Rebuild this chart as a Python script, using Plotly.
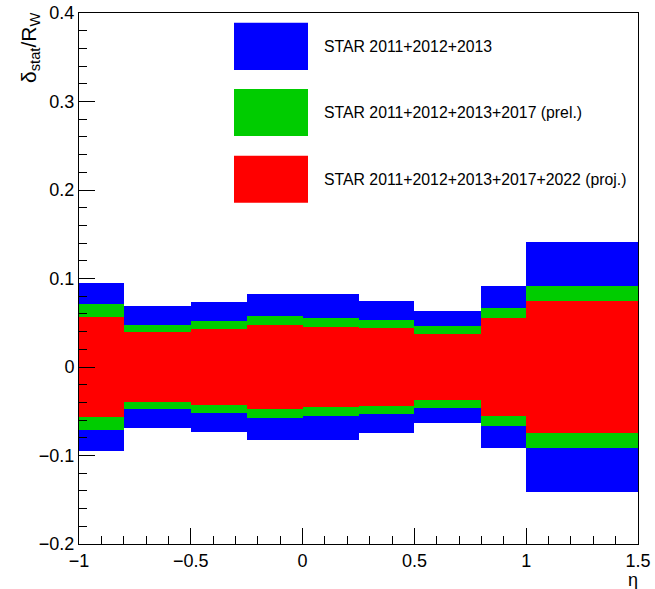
import plotly.graph_objects as go

# Bin edges in eta
eta_edges = [-1.0, -0.8, -0.5, -0.25, 0.0, 0.25, 0.5, 0.8, 1.0, 1.5]
# Half-widths of relative statistical uncertainty bands (delta_stat / R_W)
err_2011_2013 = [0.095, 0.069, 0.074, 0.083, 0.082, 0.075, 0.063, 0.092, 0.141]
err_2011_2017 = [0.071, 0.047, 0.052, 0.058, 0.055, 0.053, 0.046, 0.067, 0.092]
err_2011_2022 = [0.057, 0.039, 0.043, 0.048, 0.045, 0.044, 0.037, 0.055, 0.075]

series_names = [
    "STAR 2011+2012+2013",
    "STAR 2011+2012+2013+2017 (prel.)",
    "STAR 2011+2012+2013+2017+2022 (proj.)",
]
series_colors = ["#0000FF", "#00CC00", "#FF0000"]
series_errs = [err_2011_2013, err_2011_2017, err_2011_2022]

centers = [(a + b) / 2 for a, b in zip(eta_edges[:-1], eta_edges[1:])]
widths = [b - a for a, b in zip(eta_edges[:-1], eta_edges[1:])]

FONT = "Liberation Sans, Arial, Helvetica, sans-serif"

fig = go.Figure()
for name, color, errs in zip(series_names, series_colors, series_errs):
    fig.add_trace(go.Bar(
        x=centers,
        width=widths,
        y=[2 * e for e in errs],
        base=[-e for e in errs],
        name=name,
        marker=dict(color=color, line=dict(width=0)),
        showlegend=False,
        hoverinfo="skip",
    ))

W, H = 655, 589
L, R, T, B = 79, 17, 13, 45
pw, ph = W - L - R, H - T - B

def px_to_paper(px, py):
    return (px - L) / pw, (H - B - py) / ph

shapes = []
annotations = []
legend_rows = [(22.7, 70.0), (89.0, 136.0), (155.7, 202.7)]
for (y0, y1), name, color in zip(legend_rows, series_names, series_colors):
    x0p, y0p = px_to_paper(234, y1)
    x1p, y1p = px_to_paper(308, y0)
    shapes.append(dict(type="rect", xref="paper", yref="paper",
                       x0=x0p, x1=x1p, y0=y0p, y1=y1p,
                       fillcolor=color, line=dict(width=0)))
    tx, ty = px_to_paper(322, (y0 + y1) / 2)
    annotations.append(dict(xref="paper", yref="paper", x=tx, y=ty,
                            text=name, showarrow=False, xanchor="left",
                            yanchor="middle",
                            font=dict(family=FONT, size=15.8, color="black")))

# axis titles
ax, ay = px_to_paper(30, 11)
annotations.append(dict(xref="paper", yref="paper", x=ax, y=ay,
                        text="δ<sub>stat</sub>/R<sub>W</sub>", textangle=-90,
                        showarrow=False, xanchor="center", yanchor="top",
                        font=dict(family=FONT, size=21, color="black")))
bx, by = px_to_paper(640, 580)
annotations.append(dict(xref="paper", yref="paper", x=bx, y=by,
                        text="η", showarrow=False, xanchor="right",
                        yanchor="middle",
                        font=dict(family=FONT, size=18, color="black")))

fig.update_layout(
    width=W, height=H,
    margin=dict(l=L, r=R, t=T, b=B, pad=0, autoexpand=False),
    paper_bgcolor="white", plot_bgcolor="white",
    barmode="overlay", bargap=0,
    font=dict(family=FONT, size=18, color="black"),
    shapes=shapes, annotations=annotations,
    showlegend=False,
)
fig.update_xaxes(
    range=[-1, 1.5], dtick=0.5, tick0=-1, automargin=False,
    ticks="inside", ticklen=16, tickwidth=1, tickcolor="black",
    minor=dict(dtick=0.1, ticks="inside", ticklen=8, tickcolor="black", tickwidth=1),
    showline=True, linecolor="black", linewidth=1, mirror=True,
    showgrid=False, zeroline=False,
    tickfont=dict(family=FONT, size=18),
)
fig.update_yaxes(
    range=[-0.2, 0.4], dtick=0.1, tick0=-0.2, automargin=False,
    ticks="inside", ticklen=16, tickwidth=1, tickcolor="black",
    minor=dict(dtick=0.02, ticks="inside", ticklen=8, tickcolor="black", tickwidth=1),
    showline=True, linecolor="black", linewidth=1, mirror=True,
    showgrid=False, zeroline=False,
    tickfont=dict(family=FONT, size=18),
)

fig.write_html("out.html",
               config={"displayModeBar": False},
               post_script="document.body.style.margin='0';document.body.style.overflow='hidden';")
